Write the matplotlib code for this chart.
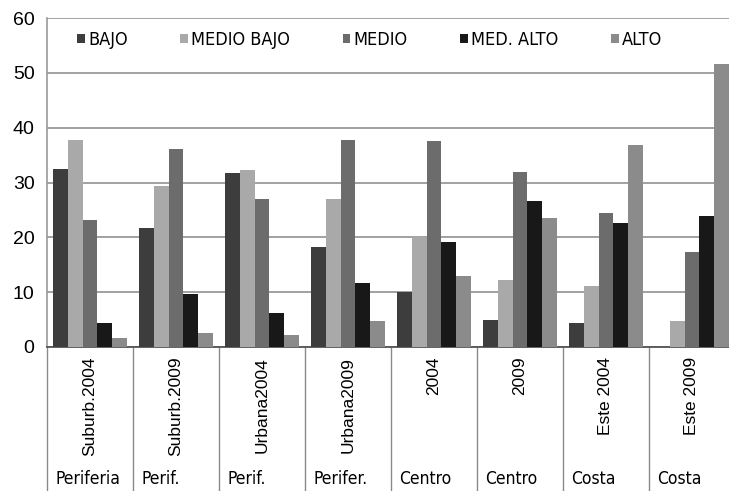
import matplotlib.pyplot as plt
import numpy as np

# data
top_labels = ['Suburb.2004', 'Suburb.2009', 'Urbana2004', 'Urbana2009',
              '2004', '2009', 'Este 2004', 'Este 2009']
bottom_labels = ['Periferia', 'Perif.', 'Perif.', 'Perifer.',
                 'Centro', 'Centro', 'Costa', 'Costa']
categories = ['BAJO', 'MEDIO BAJO', 'MEDIO', 'MED. ALTO', 'ALTO']
bajo = [32.5, 21.7, 31.7, 18.3, 10.0, 5.0, 4.4, 0.0]
medio_bajo = [37.8, 29.4, 32.3, 27.0, 20.0, 12.3, 11.1, 4.8]
medio = [23.1, 36.2, 27.0, 37.8, 37.6, 32.0, 24.4, 17.4]
med_alto = [4.4, 9.7, 6.2, 11.7, 19.1, 26.7, 22.7, 23.9]
alto = [1.7, 2.6, 2.1, 4.7, 13.0, 23.6, 36.9, 51.6]
series = [bajo, medio_bajo, medio, med_alto, alto]

colors = ['#3d3d3d', '#a9a9a9', '#6c6c6c', '#181818', '#8b8b8b']

plt.rcParams['font.family'] = ['Liberation Sans', 'DejaVu Sans']

fig = plt.figure(figsize=(7.29, 4.91), dpi=100)
ax = fig.add_axes([47 / 729, 0.2933, 688 / 729, 0.670])

ind = np.arange(len(top_labels))
width = 0.174
for k, (vals, cat) in enumerate(zip(series, categories)):
    ax.bar(ind + (k - 2) * width, vals, width, color=colors[k], label=cat,
           zorder=3)

ax.set_xlim(-0.5, 7.5)
ax.set_ylim(0, 60)
ax.set_yticks(range(0, 61, 10))
ax.tick_params(axis='y', length=0, labelsize=14, pad=9)
ax.set_xticks([])
ax.grid(axis='y', color='#9a9a9a', linewidth=1.3, zorder=0)
for side in ['top', 'right']:
    ax.spines[side].set_visible(False)
ax.spines['left'].set_color('#9a9a9a')
ax.spines['left'].set_linewidth(1.2)
ax.spines['bottom'].set_color('#555555')
ax.spines['bottom'].set_linewidth(1.3)

# category table below the axis
trans = ax.get_xaxis_transform()
for b in np.arange(-0.5, 8, 1):
    ax.plot([b, b], [0, -0.45], transform=trans, color='#8a8a8a',
            linewidth=1.0, clip_on=False)
for i in ind:
    ax.text(i, -0.03, top_labels[i], transform=trans, rotation=90,
            ha='center', va='top', fontsize=12.5)
    ax.text(i - 0.40, -0.40, bottom_labels[i], transform=trans,
            ha='left', va='center', fontsize=12.5, fontstretch='condensed',
            family='DejaVu Sans')

leg = ax.legend(loc='center left', bbox_to_anchor=(0.02, 0.933), ncol=5,
                frameon=False, handlelength=0.42, handleheight=0.42,
                handletextpad=0.2, columnspacing=2.9,
                prop={'family': 'DejaVu Sans', 'stretch': 'condensed',
                      'size': 13})

fig.savefig('out.png', dpi=100)
